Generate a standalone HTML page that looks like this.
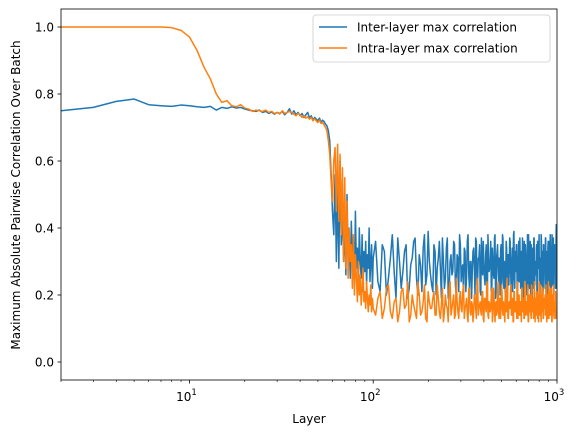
<!DOCTYPE html>
<html><head><meta charset="utf-8"><style>
html,body{margin:0;padding:0;background:#fff;}
svg text{font-family:"DejaVu Sans","Liberation Sans",sans-serif;fill:#000;}
</style></head><body>
<svg id="chart" width="579" height="437" xmlns="http://www.w3.org/2000/svg">
<defs><clipPath id="clip"><rect x="61" y="9" width="496" height="371"/></clipPath></defs>
<g id="lines" clip-path="url(#clip)"></g>
<rect x="61" y="9" width="496" height="371" fill="none" stroke="#000" stroke-width="0.8"/>
<g id="axes"></g>
<text x="309" y="423" font-size="12" text-anchor="middle">Layer</text>
<text transform="translate(20,195) rotate(-90)" font-size="12" text-anchor="middle">Maximum Absolute Pairwise Correlation Over Batch</text>
<g>
<rect x="313" y="15" width="237" height="47" rx="3" fill="#fff" fill-opacity="0.8" stroke="#ccc" stroke-width="0.8"/>
<line x1="319" y1="27" x2="347" y2="27" stroke="#1f77b4" stroke-width="1.5"/>
<text x="357" y="31.5" font-size="12">Inter-layer max correlation</text>
<line x1="319" y1="48" x2="347" y2="48" stroke="#ff7f0e" stroke-width="1.5"/>
<text x="357" y="52.5" font-size="12">Intra-layer max correlation</text>
</g>
</svg>
<script>
const interHead = [.750,.760,.778,.785,.768,.765,.763,.767,.765,.762,.760,.763,.752,.760,.757,.762,.758,.760,.755,.752,.750,.748,.752,.745,.748,.742,.746,.740,.745,.742,.748,.738,.745,.756,.740,.750,.738,.745,.735,.742,.730,.738,.745,.728,.735,.722,.730,.725,.720,.728,.715,.722,.718,.710,.705,.690,.660,.560,.450,
.380,.560,.300,.520,.280,.600,.350,.450,.300,.400,.260,.500,.320,.380,.250,.420,.300,.360,.240,.450,.280,.340,.220,.400,.300,.250,.380,.210,.330,.270,.360,.230,.320,.280,.400,.240,.300,.350,.220,.310];
const interTailA = [.36,.21,.33,.25,.38,.19,.30,.27,.35,.22,.31,.37,.20,.29,.34,.23,.39,.26,.21,.33,.28,.36,.19,.30,.25,.37,.22,.32,.27,.35,.20,.31,.38,.24,.29,.34,.21,.36,.26,.30,.19,.33,.28,.37,.23,.31,.35,.20,.29,.36,.25,.32,.22,.38,.27,.30,.21,.34,.26,.37,.19,.31,.35,.24,.29,.33,.22,.38,.27,.30,.20,.36,.25,.32,.23,.37,.28,.21,.34,.30,.39,.22,.27,.35,.19,.31,.36,.24,.29,.33,.21,.37,.26,.30,.23,.35,.28,.20,.38,.25,.32,.22,.36,.27,.31,.19,.34,.29,.37,.23,.30,.26,.35,.21,.33,.28,.38,.24,.31,.20,.36,.27,.32,.22,.35,.29,.25,.37,.21,.33,.30,.19,.36,.26,.31,.23,.38,.28,.22,.34,.30,.25,.37,.20,.32,.27,.35,.24,.41,.22];
const interTailB = [.24,.35,.20,.31,.27,.37,.22,.33,.19,.29,.36,.25,.32,.21,.38,.26,.30,.23,.35,.20,.31,.28,.37,.22,.34,.19,.30,.26,.36,.23,.32,.21,.35,.28,.19,.33,.25,.38,.22,.30,.27,.34,.20,.36,.24,.31,.21,.37,.26,.29,.23,.35,.19,.32,.28,.36,.22,.30,.25,.38,.21,.33,.27,.31,.20,.35,.24,.37,.22,.29,.26,.34,.19,.32,.28,.36,.23,.30,.21,.38,.25,.33,.27,.35,.20,.31,.24,.37,.22,.29,.26,.34,.19,.36,.28,.32,.23,.30,.21,.38,.25,.33,.20,.35,.27,.31,.22,.37,.24,.29,.26,.34,.19,.36,.28,.32,.21,.30,.25,.38,.23,.33,.20,.35,.27,.31,.22,.37,.24,.29,.26,.34,.19,.36,.28,.32,.21,.30,.25,.38,.23,.33,.20,.35,.27,.31,.22,.37,.24,.39];
const intraHead = [1,1,1,1,1,1,.998,.99,.97,.93,.88,.845,.80,.775,.78,.765,.762,.768,.758,.755,.748,.752,.750,.748,.752,.745,.748,.742,.745,.740,.750,.742,.745,.748,.745,.740,.735,.742,.738,.730,.735,.728,.732,.725,.730,.720,.726,.720,.715,.722,.712,.715,.708,.700,.690,.660,.620,.540,.480,
.600,.640,.450,.650,.420,.620,.380,.580,.300,.550,.280,.480,.250,.400,.300,.350,.220,.380,.200,.320,.250,.180,.300,.200,.260,.170,.220,.280,.180,.210,.160,.240,.190,.150,.200,.170,.230,.150,.190,.160];
const intraTailA = [.14,.21,.16,.23,.13,.19,.15,.22,.17,.12,.20,.15,.24,.14,.18,.13,.21,.16,.19,.14,.23,.15,.17,.12,.20,.16,.22,.14,.18,.13,.25,.15,.19,.16,.21,.13,.17,.14,.22,.15,.18,.12,.20,.16,.23,.14,.17,.15,.21,.13,.19,.16,.24,.14,.18,.15,.20,.12,.22,.16,.17,.14,.21,.15,.19,.13,.23,.16,.18,.14,.20,.15,.25,.13,.17,.16,.22,.14,.19,.12,.21,.15,.18,.16,.23,.13,.20,.14,.17,.15,.22,.16,.19,.13,.24,.14,.18,.15,.21,.12,.17,.16,.20,.14,.23,.15,.18,.13,.22,.16,.19,.14,.21,.15,.17,.12,.24,.16,.18,.14,.20,.15,.22,.13,.19,.16,.17,.14,.23,.15,.20,.13,.18,.16,.21,.14,.19,.15,.22,.12,.17,.16,.20,.14,.18,.15,.16,.13];
const intraTailB = [.19,.13,.22,.15,.18,.12,.21,.16,.24,.14,.17,.13,.20,.15,.23,.12,.18,.16,.21,.14,.19,.13,.22,.15,.17,.12,.24,.16,.20,.14,.18,.13,.21,.15,.23,.16,.19,.12,.22,.14,.17,.15,.20,.13,.25,.16,.18,.14,.21,.12,.19,.15,.23,.13,.17,.16,.22,.14,.20,.12,.18,.15,.24,.13,.19,.16,.21,.14,.17,.12,.22,.15,.20,.13,.18,.16,.23,.14,.19,.12,.21,.15,.17,.13,.24,.16,.20,.14,.18,.12,.22,.15,.19,.13,.21,.16,.17,.14,.23,.12,.20,.15,.18,.13,.22,.16,.19,.14,.24,.12,.17,.15,.21,.13,.20,.16,.18,.14,.23,.12,.19,.15,.22,.13,.17,.16,.20,.14,.21,.12,.18,.15,.24,.13,.19,.16,.22,.14,.17,.12,.20,.15,.23,.13,.18,.16,.21,.14];
const yTicks = [0.0,0.2,0.4,0.6,0.8,1.0];
const yTickLabels = ["0.0","0.2","0.4","0.6","0.8","1.0"];
const xMajor = [10,100,1000];
const xMajorLabels = ["1","2","3"];

const NS="http://www.w3.org/2000/svg";
const X0=61,X1=557,xmin=Math.log10(2),xmax=3;
function xs(v){return X0+(Math.log10(v)-xmin)/(xmax-xmin)*(X1-X0);}
function ys(v){return 362-v*335;}
function buildSeries(head,tailA,tailB){
  const pts=[];
  head.forEach((v,i)=>pts.push([2+i,v]));
  for(let i=0;i<tailA.length;i++){pts.push([103+6*i,tailA[i]]);if(i<tailB.length)pts.push([106+6*i,tailB[i]]);}
  return pts;
}
function mk(tag,attrs,parent){const e=document.createElementNS(NS,tag);for(const k in attrs)e.setAttribute(k,attrs[k]);parent.appendChild(e);return e;}
const lines=document.getElementById('lines');
function drawSeries(pts,color,name){
  const d=pts.map((p,i)=>(i?'L':'M')+xs(p[0]).toFixed(2)+','+ys(p[1]).toFixed(2)).join('');
  const p=mk('path',{d:d,fill:'none',stroke:color,'stroke-width':1.5,'stroke-linejoin':'round'},lines);
  
  
}
drawSeries(buildSeries(interHead,interTailA,interTailB),'#1f77b4','inter-layer-line');
drawSeries(buildSeries(intraHead,intraTailA,intraTailB),'#ff7f0e','intra-layer-line');
const axes=document.getElementById('axes');
yTicks.forEach((t,i)=>{
  const y=ys(t);
  const tk=mk('line',{x1:X0-3.5,x2:X0,y1:y,y2:y,stroke:'#000','stroke-width':0.8},axes);
  
  
  const tx=mk('text',{x:X0-7,y:y+4.5,'font-size':12,'text-anchor':'end'},axes);
  tx.textContent=yTickLabels[i];
  
  
});
xMajor.forEach((t,i)=>{
  const x=xs(t);
  const tk=mk('line',{x1:x,x2:x,y1:380,y2:383.5,stroke:'#000','stroke-width':0.8},axes);
  
  
  const tx=mk('text',{x:x-3,y:401,'font-size':12,'text-anchor':'middle'},axes);
  tx.innerHTML='10<tspan dy="-6" font-size="8.5">'+xMajorLabels[i]+'</tspan>';
  
  
});
[1,10,100].forEach(dec=>{for(let m=2;m<=9;m++){const v=dec*m;if(v<2||v>1000)continue;
  const tk=mk('line',{x1:xs(v),x2:xs(v),y1:380,y2:382,stroke:'#000','stroke-width':0.6},axes);
  
  
}});
</script>
</body></html>
